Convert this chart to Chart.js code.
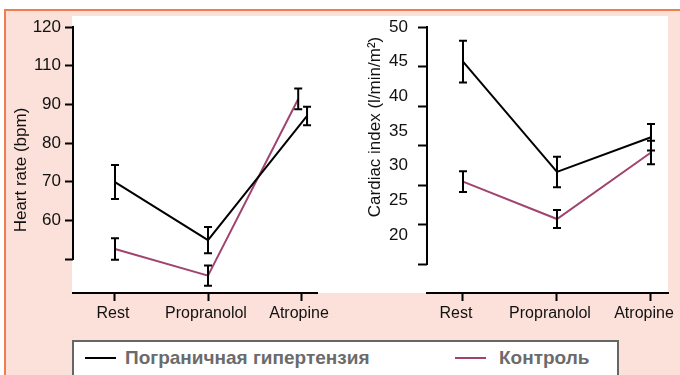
<!DOCTYPE html>
<html>
<head>
<meta charset="utf-8">
<script src="https://cdn.jsdelivr.net/npm/chart.js@4.4.1/dist/chart.umd.min.js"></script>
<style>
  html, body { margin: 0; padding: 0; width: 680px; height: 375px; overflow: hidden; background: #fff; font-family: "Liberation Sans", Arial, sans-serif; }
  #panel { position: absolute; left: 4px; top: 9px; width: 690px; height: 380px; background: #fce1da; border-top: 2px solid #ef7d4d; border-left: 2px solid #ef7d4d; }
  #plotBg { position: absolute; left: 72px; top: 16px; width: 596px; height: 277px; background: #fff; }
  canvas { position: absolute; top: 0; }
  #hr { left: 0; }
  #ci { left: 340px; }
  #legend { position: absolute; left: 72px; top: 340px; width: 543px; height: 50px; background: #fff; border: 2px solid #666; }
  #legend .sw { position: absolute; top: 15px; width: 31px; height: 2px; }
  #legend .lbl { position: absolute; top: 5px; font-weight: bold; font-size: 19px; line-height: 22px; color: #6b6b6b; white-space: nowrap; }
</style>
</head>
<body>
<div id="panel"></div>
<div id="plotBg"></div>
<canvas id="hr" width="340" height="340"></canvas>
<canvas id="ci" width="340" height="340"></canvas>
<div id="legend">
  <span class="sw" style="left:11px;background:#000"></span><span class="lbl" style="left:51px">Пограничная гипертензия</span>
  <span class="sw" style="left:381px;background:#a1436f"></span><span class="lbl" style="left:425px">Контроль</span>
</div>
<script>
// categories and values
var categories = ['Rest', 'Propranolol', 'Atropine'];

// heart rate panel (the printed scale skips 100, so labels are kept apart from tick values)
var hrTickValues = [50, 60, 70, 80, 90, 100, 110];
var hrTickLabels = ['', '60', '70', '80', '90', '110', '120'];
var hrHyper = [69.9, 54.9, 87.0];
var hrHyperErr = [4.4, 3.4, 2.4];
var hrHyperShift = [0, 0, 0.065];
var hrControl = [52.6, 45.7, 91.4];
var hrControlErr = [2.8, 2.6, 2.7];
var hrControlShift = [0, 0, -0.03];

// cardiac index panel
var ciTicks = [20, 25, 30, 35, 40, 45, 50];
var ciMarks = [0, 1, 2, 3, 4, 5, 6];
var ciHyper = [45.0, 29.1, 34.1];
var ciHyperErr = [3.0, 2.2, 1.9];
var ciControl = [27.7, 22.3, 31.9];
var ciControlErr = [1.5, 1.3, 1.7];

var purple = '#a1436f';
var textColor = '#111';
var tickFont = { family: 'Liberation Sans', size: 16 };
var numFont = { family: 'Liberation Sans', size: 17 };

function points(values, shift) {
    return values.map(function(v, i) {
        return { x: i + (shift ? shift[i] : 0), y: v };
    });
}

// black error bars with caps, on top of the lines
var errorBars = {
    id: 'errorBars',
    afterDatasetsDraw: function(chart) {
        var ctx = chart.ctx;
        var yScale = chart.scales.y;
        ctx.save();
        ctx.strokeStyle = '#000';
        ctx.lineWidth = 2;
        chart.data.datasets.forEach(function(ds, di) {
            var meta = chart.getDatasetMeta(di);
            meta.data.forEach(function(pt, i) {
                var v = ds.data[i].y;
                var e = ds.errors[i];
                var top = yScale.getPixelForValue(v + e);
                var bot = yScale.getPixelForValue(v - e);
                ctx.beginPath();
                ctx.moveTo(pt.x, top);
                ctx.lineTo(pt.x, bot);
                ctx.moveTo(pt.x - 4, top);
                ctx.lineTo(pt.x + 4, top);
                ctx.moveTo(pt.x - 4, bot);
                ctx.lineTo(pt.x + 4, bot);
                ctx.stroke();
            });
        });
        ctx.restore();
    }
};

// vertical axis line that only spans the ticked range
var axisLine = {
    id: 'axisLine',
    afterDraw: function(chart, args, opts) {
        var s = chart.scales[opts.scale];
        var x = chart.chartArea.left;
        var ctx = chart.ctx;
        ctx.save();
        ctx.strokeStyle = '#000';
        ctx.lineWidth = 2;
        ctx.beginPath();
        ctx.moveTo(x, s.getPixelForValue(opts.from) - 1);
        ctx.lineTo(x, s.getPixelForValue(opts.to) + 1);
        ctx.stroke();
        ctx.restore();
    }
};

// rotated axis title
var sideTitle = {
    id: 'sideTitle',
    afterDraw: function(chart, args, opts) {
        var ctx = chart.ctx;
        ctx.save();
        ctx.translate(opts.x, opts.y);
        ctx.rotate(-Math.PI / 2);
        ctx.font = '17px "Liberation Sans"';
        ctx.fillStyle = textColor;
        ctx.textAlign = 'center';
        ctx.textBaseline = 'middle';
        ctx.fillText(opts.text, 0, 0);
        ctx.restore();
    }
};

function lineSet(label, data, errors, color) {
    return {
        label: label,
        data: data,
        errors: errors,
        borderColor: color,
        borderWidth: 2,
        pointRadius: 0,
        tension: 0,
        fill: false
    };
}

function xScale(min, max, labelOffset) {
    return {
        type: 'linear',
        min: min,
        max: max,
        afterBuildTicks: function(s) {
            s.ticks = categories.map(function(c, i) { return { value: i }; });
        },
        afterFit: function(s) {
            s.height = 40;
            s.paddingLeft = 0;
            s.paddingRight = 0;
        },
        ticks: {
            callback: function(v) { return categories[v]; },
            color: textColor,
            font: tickFont,
            padding: 3,
            autoSkip: false,
            maxRotation: 0,
            labelOffset: labelOffset
        },
        grid: { drawOnChartArea: false, tickLength: 8, tickWidth: 2, tickColor: '#000' },
        border: { color: '#000', width: 2 }
    };
}

new Chart(document.getElementById('hr'), {
    type: 'line',
    data: {
        datasets: [
            lineSet('Пограничная гипертензия', points(hrHyper, hrHyperShift), hrHyperErr, '#000'),
            lineSet('Контроль', points(hrControl, hrControlShift), hrControlErr, purple)
        ]
    },
    options: {
        responsive: false,
        animation: false,
        events: [],
        layout: { padding: { left: 0, top: 27, right: 23, bottom: 7 } },
        plugins: {
            legend: { display: false },
            tooltip: { enabled: false },
            axisLine: { scale: 'y', from: 110, to: 50 },
            sideTitle: { text: 'Heart rate (bpm)', x: 21, y: 170 }
        },
        scales: {
            x: xScale(-0.4516, 2.172, -2),
            y: {
                min: 41.21,
                max: 110,
                afterBuildTicks: function(s) {
                    s.ticks = hrTickValues.map(function(v) { return { value: v }; });
                },
                afterFit: function(s) { s.width = 73; },
                ticks: {
                    callback: function(v, i) { return hrTickLabels[i]; },
                    color: textColor,
                    font: numFont,
                    padding: 4,
                    autoSkip: false
                },
                grid: { drawOnChartArea: false, tickLength: 8, tickWidth: 2, tickColor: '#000' },
                border: { display: false }
            }
        }
    },
    plugins: [errorBars, axisLine, sideTitle]
});

new Chart(document.getElementById('ci'), {
    type: 'line',
    data: {
        datasets: [
            lineSet('Пограничная гипертензия', points(ciHyper), ciHyperErr, '#000'),
            lineSet('Контроль', points(ciControl), ciControlErr, purple)
        ]
    },
    options: {
        responsive: false,
        animation: false,
        events: [],
        layout: { padding: { left: 0, top: 27, right: 12, bottom: 7 } },
        plugins: {
            legend: { display: false },
            tooltip: { enabled: false },
            axisLine: { scale: 'yMarks', from: 6, to: 0 },
            sideTitle: { text: 'Cardiac index (l/min/m²)', x: 35, y: 127 }
        },
        scales: {
            x: xScale(-0.383, 2.181, -7),
            y: {
                position: 'left',
                weight: 1,
                min: 11.63,
                max: 50,
                afterBuildTicks: function(s) {
                    s.ticks = ciTicks.map(function(v) { return { value: v }; });
                },
                afterFit: function(s) { s.width = 87; },
                ticks: { color: textColor, font: numFont, padding: 11, autoSkip: false },
                grid: { display: false },
                border: { display: false }
            },
            // the printed tick marks do not line up with the printed numbers
            yMarks: {
                position: 'left',
                weight: 0,
                min: -0.734,
                max: 6,
                afterBuildTicks: function(s) {
                    s.ticks = ciMarks.map(function(v) { return { value: v }; });
                },
                afterFit: function(s) { s.width = 0; },
                ticks: { display: false },
                grid: { drawOnChartArea: false, tickLength: 9, tickWidth: 2, tickColor: '#000' },
                border: { display: false }
            }
        }
    },
    plugins: [errorBars, axisLine, sideTitle]
});
</script>
</body>
</html>
